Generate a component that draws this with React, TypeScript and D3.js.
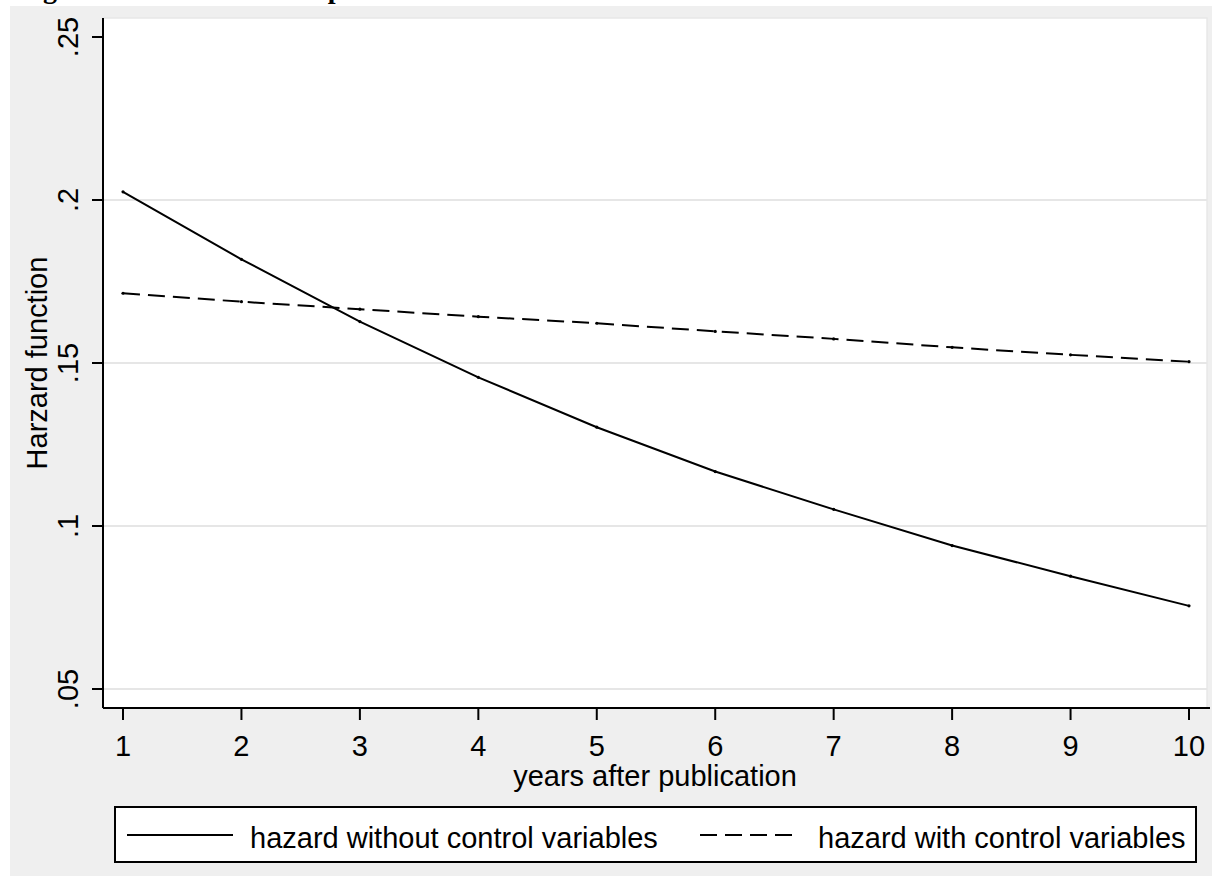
import React from "react";
import * as d3 from "d3";

const years = [1, 2, 3, 4, 5, 6, 7, 8, 9, 10];
const hazardWithout = [0.2025, 0.1818, 0.1627, 0.1456, 0.1303, 0.1167, 0.1051, 0.094, 0.0846, 0.0755];
const hazardWith = [0.1714, 0.1688, 0.1665, 0.1642, 0.1622, 0.1597, 0.1574, 0.1548, 0.1525, 0.1504];
const yTicks = [0.05, 0.1, 0.15, 0.2, 0.25];
const yTickLabels = [".05", ".1", ".15", ".2", ".25"];
const xTicks = [1, 2, 3, 4, 5, 6, 7, 8, 9, 10];
const legendLabels = ["hazard without control variables", "hazard with control variables"];
const titleText = "Figure 4: Hazard rates of publications";
const xTitle = "years after publication";
const yTitle = "Harzard function";

const W = 1212;
const H = 877;
const plotL = 103;
const plotR = 1207;
const plotT = 18;
const plotB = 708;
const FONT = "'Liberation Sans', Arial, sans-serif";
const FS = 29;

export default function App() {
  const x = d3.scaleLinear().domain([1, 10]).range([123, 1189]);
  const y = d3.scaleLinear().domain([0.05, 0.25]).range([689, 37]);
  const line = d3
    .line<number>()
    .x((_, i) => x(years[i]))
    .y((d) => y(d));

  return (
    <svg
      width={W}
      height={H}
      style={{ position: "absolute", left: 0, top: 0, background: "#ffffff" }}
    >
      <text
        x={18}
        y={-2}
        fontFamily="'Liberation Serif', 'Times New Roman', serif"
        fontWeight="bold"
        fontSize={28}
        fill="#000"
      >
        {titleText}
      </text>
      <rect x={10} y={6} width={W - 10} height={870} fill="#efefef" />
      <rect
        x={plotL}
        y={plotT}
        width={plotR - plotL}
        height={plotB - plotT}
        fill="#ffffff"
        stroke="#e8e8e8"
        strokeWidth={1.5}
      />
      {yTicks
        .filter((t) => t < 0.25)
        .map((t) => (
          <line
            key={"g" + t}
            x1={plotL}
            x2={plotR}
            y1={y(t)}
            y2={y(t)}
            stroke="#e6e6e6"
            strokeWidth={2}
          />
        ))}
      {/* axes */}
      <line x1={plotL} x2={plotL} y1={plotT} y2={plotB} stroke="#000" strokeWidth={2} />
      <line x1={plotL} x2={1210} y1={plotB} y2={plotB} stroke="#000" strokeWidth={2} />
      {yTicks.map((t, i) => (
        <g key={"yt" + t}>
          <line x1={plotL - 11} x2={plotL} y1={y(t)} y2={y(t)} stroke="#000" strokeWidth={2} />
          <text
            transform={`translate(78,${y(t)}) rotate(-90)`}
            textAnchor="middle"
            fontFamily={FONT}
            fontSize={FS}
            fill="#000"
          >
            {yTickLabels[i]}
          </text>
        </g>
      ))}
      {xTicks.map((t) => (
        <g key={"xt" + t}>
          <line x1={x(t)} x2={x(t)} y1={plotB} y2={plotB + 12} stroke="#000" strokeWidth={2} />
          <text
            x={x(t)}
            y={756}
            textAnchor="middle"
            fontFamily={FONT}
            fontSize={FS}
            fill="#000"
          >
            {t}
          </text>
        </g>
      ))}
      <text x={655} y={786} textAnchor="middle" fontFamily={FONT} fontSize={FS} fill="#000">
        {xTitle}
      </text>
      <text
        transform={`translate(47,${363}) rotate(-90)`}
        textAnchor="middle"
        fontFamily={FONT}
        fontSize={FS}
        fill="#000"
      >
        {yTitle}
      </text>
      {/* series */}
      <path d={line(hazardWithout) || ""} fill="none" stroke="#000" strokeWidth={2} />
      <path
        d={line(hazardWith) || ""}
        fill="none"
        stroke="#000"
        strokeWidth={2}
        strokeDasharray="17 8"
      />
      {hazardWithout.map((v, i) => (
        <circle key={"a" + i} cx={x(years[i])} cy={y(v)} r={1.6} fill="#000" />
      ))}
      {hazardWith.map((v, i) => (
        <circle key={"b" + i} cx={x(years[i])} cy={y(v)} r={1.6} fill="#000" />
      ))}
      {/* legend */}
      <rect x={115} y={807} width={1081} height={55} fill="#fff" stroke="#000" strokeWidth={2} />
      <line x1={127} x2={233} y1={835} y2={835} stroke="#000" strokeWidth={2} />
      <text x={250} y={848} fontFamily={FONT} fontSize={FS} fill="#000">
        {legendLabels[0]}
      </text>
      <line
        x1={700}
        x2={797}
        y1={835}
        y2={835}
        stroke="#000"
        strokeWidth={2}
        strokeDasharray="17 8"
      />
      <text x={818} y={848} fontFamily={FONT} fontSize={FS} fill="#000">
        {legendLabels[1]}
      </text>
    </svg>
  );
}
